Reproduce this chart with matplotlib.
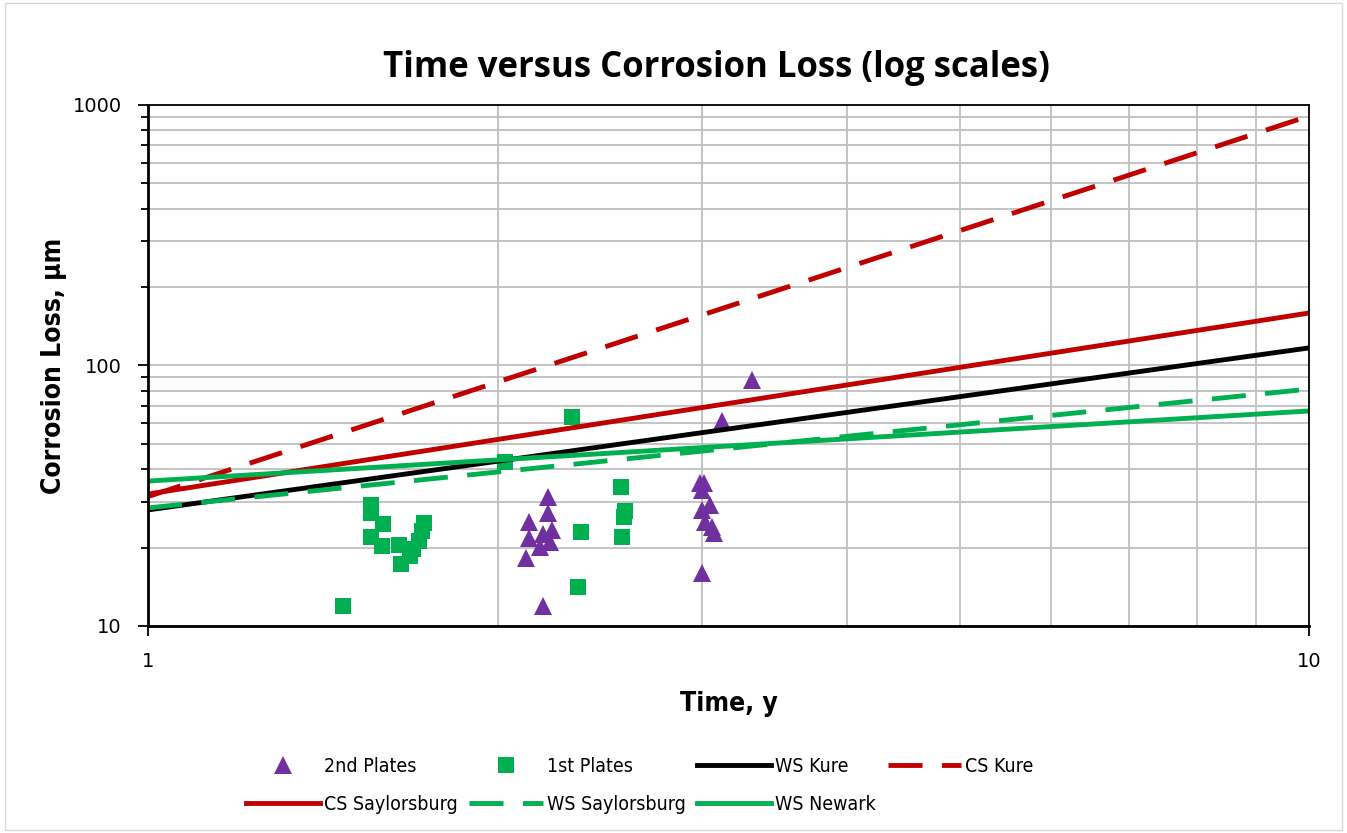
import matplotlib.pyplot as plt
from matplotlib.patches import Rectangle
from matplotlib.ticker import LogLocator, NullFormatter, FixedLocator, FixedFormatter
from matplotlib import font_manager

# scatter data (time in years, corrosion loss in um)
plates2_t = [2.211, 2.13, 2.21, 2.23, 2.13, 2.175, 2.22, 2.19, 2.117, 2.189,
             3.12, 3.31, 2.989, 3.01, 3.0, 3.05, 3.0, 3.02, 3.06, 3.07, 3.0]
plates2_loss = [31.3, 25.1, 27.2, 23.4, 21.8, 20.1, 21.0, 22.5, 18.2, 11.9,
                61.2, 87.9, 35.4, 35.4, 33.3, 29.1, 27.8, 25.1, 24.0, 22.7, 16.0]

plates1_t = [1.556, 1.556, 1.594, 1.556, 1.590, 1.645, 1.652, 1.729, 1.722,
             1.712, 1.692, 1.68, 1.472, 2.03, 2.32, 2.556, 2.577, 2.57, 2.56,
             2.36, 2.344]
plates1_loss = [29.1, 27.2, 24.6, 22.0, 20.3, 20.5, 17.3, 24.9, 23.2,
                21.2, 19.8, 18.6, 11.9, 42.6, 63.4, 34.2, 27.6, 26.2, 22.0,
                23.0, 14.1]

# fitted lines, read at t = 1, 2, 5, 10
line_t = [1, 2, 5, 10]
ws_kure = [27.9, 42.9, 75.9, 116.8]
cs_kure = [31.4, 86.4, 329, 907]
cs_saylorsburg = [32.1, 52.0, 98.3, 159]
ws_saylorsburg = [28.4, 39.0, 59.2, 81.2]
ws_newark = [36.0, 43.4, 55.5, 66.9]

red = "#C00000"
green = "#00B050"
purple = "#7030A0"

fig = plt.figure(figsize=(13.47, 8.33), dpi=100)
fig.patches.append(Rectangle((0.004, 0.004), 0.992, 0.992, transform=fig.transFigure,
                             fill=False, edgecolor="#D9D9D9", lw=1))
ax = fig.add_axes([0.1099, 0.2485, 0.8619, 0.6255])

h2, = ax.plot(plates2_t, plates2_loss, "^", color=purple, ms=13, mew=0, label="2nd Plates")
h1, = ax.plot(plates1_t, plates1_loss, "s", color=green, ms=11.5, mew=0, label="1st Plates")
hwk, = ax.plot(line_t, ws_kure, color="black", lw=3.5, label="WS Kure")
hck, = ax.plot(line_t, cs_kure, color=red, lw=3.5, dashes=(7, 4), label="CS Kure")
hcs, = ax.plot(line_t, cs_saylorsburg, color=red, lw=3.5, label="CS Saylorsburg")
hws, = ax.plot(line_t, ws_saylorsburg, color=green, lw=3.5, dashes=(7, 4), label="WS Saylorsburg")
hwn, = ax.plot(line_t, ws_newark, color=green, lw=3.5, label="WS Newark")

ax.set_xscale("log")
ax.set_yscale("log")
ax.set_xlim(1, 10)
ax.set_ylim(10, 1000)

ax.xaxis.set_major_locator(FixedLocator([1, 10]))
ax.xaxis.set_major_formatter(FixedFormatter(["1", "10"]))
ax.xaxis.set_minor_locator(LogLocator(base=10, subs=range(2, 10)))
ax.xaxis.set_minor_formatter(NullFormatter())
ax.yaxis.set_major_locator(FixedLocator([10, 100, 1000]))
ax.yaxis.set_major_formatter(FixedFormatter(["10", "100", "1000"]))
ax.yaxis.set_minor_locator(LogLocator(base=10, subs=range(2, 10)))
ax.yaxis.set_minor_formatter(NullFormatter())

ax.grid(True, which="both", color="#BFBFBF", lw=1.3)
ax.set_axisbelow(True)
ax.tick_params(axis="y", which="major", length=7, width=1.3, labelsize=14, pad=12)
ax.tick_params(axis="y", which="minor", length=5, width=1.3)
ax.tick_params(axis="x", which="major", length=7, width=1.3, labelsize=14, pad=12)
ax.tick_params(axis="x", which="minor", length=0)
for s in ax.spines.values():
    s.set_linewidth(1.3)
ax.spines["left"].set_linewidth(2)
ax.spines["bottom"].set_linewidth(2)

cond_bold = font_manager.FontProperties(family="DejaVu Sans", stretch="condensed",
                                        weight="bold", size=19)
cond = font_manager.FontProperties(family="DejaVu Sans", stretch="condensed", size=14)
ax.set_xlabel("Time, y", fontproperties=cond_bold, labelpad=14)
ax.set_ylabel("Corrosion Loss, µm", fontproperties=cond_bold, labelpad=4)
fig.text(0.532, 0.918, "Time versus Corrosion Loss (log scales)", ha="center", va="center",
         fontsize=25, fontweight="bold", family=["Open Sans", "DejaVu Sans"])

handles = [h2, hcs, h1, hws, hwk, hwn, hck]
fig.legend(handles=handles, labels=[h.get_label() for h in handles], ncol=4,
           loc="center", bbox_to_anchor=(0.475, 0.057), frameon=False,
           prop=cond, handlelength=3.8, columnspacing=0.6, labelspacing=1.0,
           handletextpad=0.2)

fig.savefig("out.png", dpi=100)
